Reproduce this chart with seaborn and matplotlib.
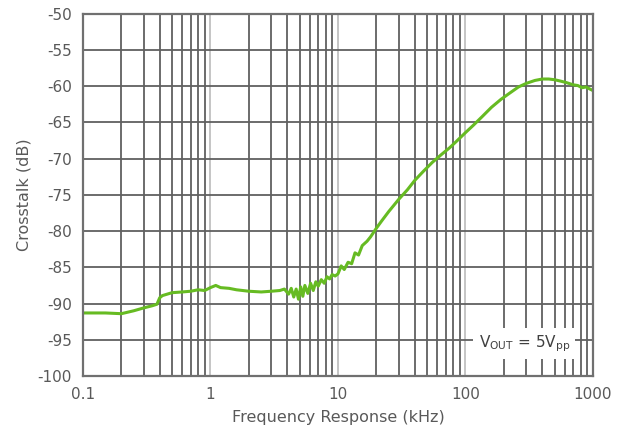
import matplotlib
matplotlib.use("Agg")
import matplotlib.pyplot as plt
import matplotlib.ticker as mticker
import seaborn as sns
import pandas as pd
import numpy as np

# values
freq_khz = [0.1, 0.15, 0.2, 0.25, 0.3, 0.35, 0.38, 0.4, 0.42, 0.5, 0.6, 0.7, 0.8, 0.9,
            1.0, 1.1, 1.2, 1.4, 1.6, 2.0, 2.5, 3.0, 3.5, 3.8, 4.1, 4.3, 4.5, 4.7, 4.9,
            5.1, 5.3, 5.5, 5.8, 6.1, 6.4, 6.7, 7.0, 7.4, 7.8, 8.2, 8.6, 9.0, 9.5, 10.0,
            10.6, 11.2, 12.0, 12.8, 13.6, 14.5, 15.5, 16.9, 18.0, 20.0, 22.0, 25.0, 30.0,
            35.0, 40.0, 47.0, 55.0, 65.0, 75.0, 85.0, 100.0, 115.0, 135.0, 160.0, 190.0,
            220.0, 260.0, 300.0, 350.0, 400.0, 450.0, 500.0, 560.0, 620.0, 700.0, 760.0,
            820.0, 880.0, 950.0, 1000.0]
crosstalk_db = [-91.3, -91.3, -91.4, -91.0, -90.6, -90.3, -90.1, -89.2, -88.9, -88.5, -88.4,
                -88.3, -88.1, -88.2, -87.8, -87.5, -87.8, -87.9, -88.1, -88.3, -88.4, -88.3,
                -88.2, -88.0, -88.7, -87.9, -89.1, -88.0, -89.4, -87.7, -89.0, -87.5, -88.6,
                -87.2, -88.2, -87.0, -87.6, -86.7, -87.2, -86.3, -86.6, -86.0, -86.2, -85.9,
                -84.8, -85.3, -84.3, -84.5, -83.0, -83.3, -82.0, -81.4, -80.8, -79.6, -78.6,
                -77.3, -75.6, -74.3, -73.0, -71.7, -70.5, -69.4, -68.5, -67.6, -66.4, -65.4,
                -64.2, -62.9, -61.8, -61.0, -60.1, -59.6, -59.2, -59.0, -59.0, -59.1, -59.3,
                -59.5, -59.8, -59.9, -60.2, -60.1, -60.4, -60.6]

x_ticks = [0.1, 1, 10, 100, 1000]
x_tick_labels = ["0.1", "1", "10", "100", "1000"]
y_ticks = list(range(-100, -45, 5))

df = pd.DataFrame({"freq": freq_khz, "xtalk": crosstalk_db})

sns.set_style("white")
plt.rcParams["font.family"] = ["DejaVu Sans"]
plt.rcParams["axes.unicode_minus"] = False
text_col = "#595959"

fig = plt.figure(figsize=(6.19, 4.46), dpi=100)
ax = fig.add_axes([0.134, 0.157, 0.824, 0.812])

sns.lineplot(data=df, x="freq", y="xtalk", ax=ax, color="#66bb22", linewidth=2.2)

ax.set_xscale("log")
ax.set_xlim(0.1, 1000)
ax.set_ylim(-100, -50)
ax.set_xticks(x_ticks)
ax.set_xticklabels(x_tick_labels)
ax.xaxis.set_minor_locator(mticker.LogLocator(base=10, subs=np.arange(2, 10)))
ax.xaxis.set_minor_formatter(mticker.NullFormatter())
ax.set_yticks(y_ticks)

ax.grid(True, which="minor", axis="x", color="#606060", linewidth=1.3)
ax.grid(True, which="major", axis="x", color="#c0c0c0", linewidth=1.3)
ax.grid(True, which="major", axis="y", color="#606060", linewidth=1.3)
ax.set_axisbelow(True)

for s in ax.spines.values():
    s.set_color("#707070")
    s.set_linewidth(1.6)

ax.tick_params(axis="both", which="both", length=0, labelsize=11, labelcolor=text_col, pad=8)
ax.set_xlabel("Frequency Response (kHz)", fontsize=11.5, color=text_col, labelpad=6)
ax.set_ylabel("Crosstalk (dB)", fontsize=11.5, color=text_col, labelpad=4)

ax.text(0.955, 0.09, r"V$_{\mathregular{OUT}}$ = 5V$_{\mathregular{pp}}$", transform=ax.transAxes,
        ha="right", va="center", fontsize=11, color="#404040",
        bbox=dict(boxstyle="square,pad=0.35", facecolor="white", edgecolor="none"))

fig.savefig("out.png", dpi=100)
